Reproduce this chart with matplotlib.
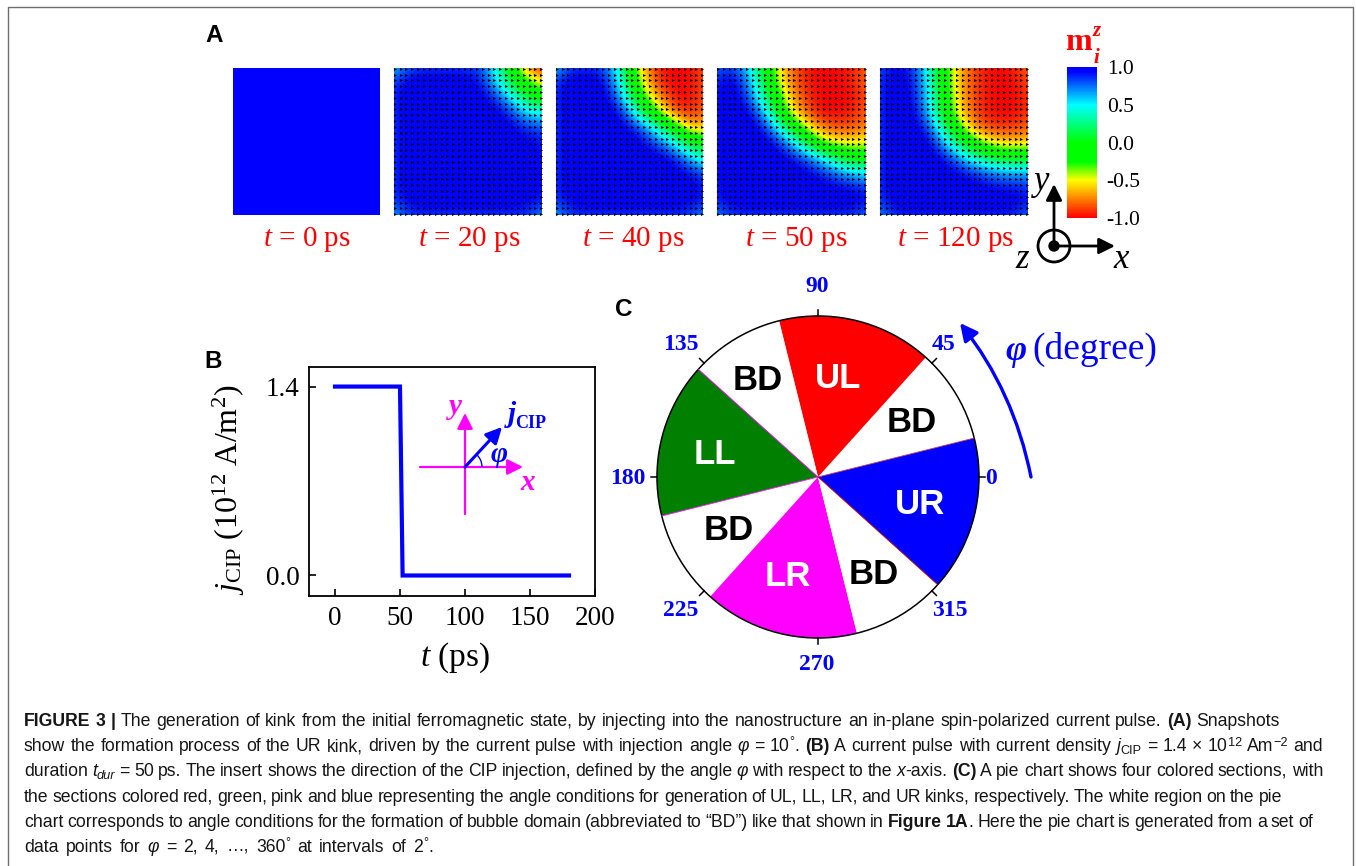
import re
import numpy as np
import matplotlib
matplotlib.use("Agg")
import matplotlib.pyplot as plt
from matplotlib.colors import LinearSegmentedColormap, Normalize
from matplotlib.cm import ScalarMappable
from matplotlib.patches import Circle, Arc, FancyArrowPatch

plt.rcParams.update({
    "font.family": ["Liberation Serif", "DejaVu Serif"],
    "mathtext.fontset": "custom",
    "mathtext.rm": "Liberation Serif",
    "mathtext.it": "Liberation Serif:italic",
    "mathtext.bf": "Liberation Serif:bold",
    "axes.unicode_minus": False,
})

W, H = 1356, 866

# ---------- DATA ----------
snapshot_labels = ["0", "20", "40", "50", "120"]
mz_0 = [[1.0]]
mz_20 = [
    [.60, .80, .85, .85, .85, .85, .80, .40, -.15, -.70, -.95],
    [.85, .98, 1, 1, 1, .98, .88, .55, .10, -.25, -.50],
    [.85, 1, 1, 1, 1, 1, .97, .82, .50, .12, -.10],
    [.85, 1, 1, 1, 1, 1, 1, .97, .82, .55, .45],
    [.85, 1, 1, 1, 1, 1, 1, 1, .95, .85, .80],
    [.85, 1, 1, 1, 1, 1, 1, 1, 1, .95, .90],
    [.85, 1, 1, 1, 1, 1, 1, 1, 1, 1, .92],
    [.85, 1, 1, 1, 1, 1, 1, 1, 1, 1, .92],
    [.85, 1, 1, 1, 1, 1, 1, 1, 1, 1, .92],
    [.85, .95, 1, 1, 1, 1, 1, 1, 1, .95, .90],
    [.65, .85, .85, .85, .85, .85, .85, .85, .85, .85, .70],
]
mz_40 = [
    [.60, .85, .85, .85, .60, -.10, -.65, -.95, -1, -1, -.85],
    [.85, 1, 1, .98, .70, .10, -.55, -.90, -1, -1, -.85],
    [.85, 1, 1, 1, .85, .30, -.30, -.70, -.95, -1, -.85],
    [.85, 1, 1, 1, .97, .70, .10, -.35, -.80, -.95, -.80],
    [.85, 1, 1, 1, 1, .92, .75, .30, -.10, -.60, -.65],
    [.85, 1, 1, 1, 1, 1, .92, .75, .50, .05, -.10],
    [.85, 1, 1, 1, 1, 1, 1, .97, .88, .65, .30],
    [.85, 1, 1, 1, 1, 1, 1, 1, .98, .90, .78],
    [.85, 1, 1, 1, 1, 1, 1, 1, 1, 1, .90],
    [.85, .95, 1, 1, 1, 1, 1, 1, 1, .95, .90],
    [.65, .85, .85, .85, .85, .85, .85, .85, .85, .85, .70],
]
mz_50 = [
    [.75, .85, .60, .10, -.45, -.80, -.95, -1, -1, -.95, -.80],
    [.90, 1, .75, .25, -.35, -.75, -.95, -1, -1, -.95, -.80],
    [.90, 1, .85, .40, -.15, -.65, -.90, -1, -1, -1, -.85],
    [.90, 1, .97, .70, .10, -.50, -.80, -1, -1, -.95, -.80],
    [.90, 1, 1, .92, .55, .0, -.50, -.75, -.85, -.85, -.75],
    [.90, 1, 1, 1, .88, .60, .10, -.40, -.55, -.55, -.50],
    [.90, 1, 1, 1, 1, .90, .75, .50, .15, -.10, -.15],
    [.90, 1, 1, 1, 1, 1, .95, .85, .70, .55, .45],
    [.90, 1, 1, 1, 1, 1, 1, .98, .95, .90, .85],
    [.90, .97, 1, 1, 1, 1, 1, 1, 1, 1, .92],
    [.70, .85, .85, .85, .85, .85, .85, .85, .85, .85, .75],
]
mz_120 = [
    [.80, .95, .90, .60, .0, -.50, -.80, -.95, -1, -.95, -.80],
    [.85, 1, .95, .65, .05, -.50, -.80, -.95, -1, -1, -.85],
    [.85, 1, .95, .70, .10, -.45, -.80, -.95, -1, -1, -.90],
    [.85, 1, 1, .75, .20, -.40, -.75, -.95, -1, -1, -.90],
    [.85, 1, 1, .90, .45, -.10, -.60, -.85, -.90, -.90, -.80],
    [.85, 1, 1, 1, .75, .30, -.10, -.45, -.60, -.65, -.60],
    [.85, 1, 1, 1, .95, .75, .45, .20, .0, -.05, -.05],
    [.85, 1, 1, 1, 1, .95, .85, .75, .65, .60, .60],
    [.85, 1, 1, 1, 1, 1, 1, .95, .90, .90, .85],
    [.85, .97, 1, 1, 1, 1, 1, 1, 1, .97, .92],
    [.70, .88, .88, .88, .88, .88, .88, .88, .88, .88, .75],
]
snapshots = [mz_0, mz_20, mz_40, mz_50, mz_120]
cbar_ticks = [1.0, 0.5, 0.0, -0.5, -1.0]
cbar_labels = ["1.0", "0.5", "0.0", "-0.5", "-1.0"]

pulse_t = [0, 50, 52, 180]
pulse_j = [1.4, 1.4, 0.0, 0.0]
pulse_xticks = [0, 50, 100, 150, 200]
pulse_yticks = [0.0, 1.4]

pie_names = ["UR", "BD", "UL", "BD", "LL", "BD", "LR", "BD"]
pie_spans = [56, 34, 56, 34, 56, 34, 56, 34]
pie_colors = ["#0000ff", "#ffffff", "#ff0000", "#ffffff", "#007f00", "#ffffff", "#ff00ff", "#ffffff"]
pie_start = -42
angle_ticks = [0, 45, 90, 135, 180, 225, 270, 315]
edge_angles = [14, 138, 194, -42]
edge_colors = ["#b03050", "#ff00ff", "#ff00ff", "#c00000"]

# ---------- LAYOUT ----------
fig = plt.figure(figsize=(W / 100, H / 100), dpi=100, facecolor="white")


def px_axes(x0, y0, x1, y1, **kw):
    return fig.add_axes([x0 / W, 1 - y1 / H, (x1 - x0) / W, (y1 - y0) / H], **kw)


cmap = LinearSegmentedColormap.from_list(
    "mz",
    [(0.0, "#ff0000"), (0.25, "#ffff00"), (0.37, "#00ff00"), (0.5, "#00ff00"),
     (0.75, "#00ffff"), (0.97, "#0000ff"), (1.0, "#0000ff")])
norm = Normalize(-1, 1)

# Panel A
panel_boxes = [(233, 380), (394, 542), (556, 703), (717, 866), (880, 1028)]
for k, ((x0, x1), grid) in enumerate(zip(panel_boxes, snapshots)):
    ax = px_axes(x0, 68, x1, 215)
    arr = np.array(grid, dtype=float)
    n = arr.shape[0]
    half = 0.5 / (n - 1) if n > 1 else 0.5
    ax.imshow(arr, cmap=cmap, norm=norm, origin="upper", aspect="auto",
              interpolation="bicubic" if n > 1 else "nearest",
              extent=(-half, 1 + half, 1 + half, -half))
    ax.set_xlim(0, 1)
    ax.set_ylim(1, 0)
    ax.axis("off")
    if k > 0:
        gx, gy = np.meshgrid(np.linspace(0.005, 0.995, 26), np.linspace(0.005, 0.995, 26))
        ax.scatter(gx.ravel(), gy.ravel(), marker=">", s=5, c="black", lw=0, clip_on=False, zorder=3)

# Colorbar
cax = px_axes(1067, 67, 1097, 218)
cb = fig.colorbar(ScalarMappable(norm=norm, cmap=cmap), cax=cax)
cb.set_ticks(cbar_ticks, labels=cbar_labels)
cb.outline.set_visible(False)
cax.tick_params(length=0, pad=7, labelsize=15.5)

# Panel B
axb = px_axes(309, 367, 595, 596)
axb.plot(pulse_t, pulse_j, color="#0000ff", lw=3.0, solid_joinstyle="miter", solid_capstyle="projecting")
axb.set_xlim(-20, 200)
axb.set_ylim(-0.152, 1.545)
axb.set_xticks(pulse_xticks)
axb.set_yticks(pulse_yticks)
axb.set_yticklabels(["0.0", "1.4"])
axb.tick_params(direction="in", length=5, width=1.2, labelsize=19.5, pad=7)
for s in axb.spines.values():
    s.set_linewidth(1.3)

# Panel C
axc = px_axes(657, 316, 979, 638)
axc.pie(pie_spans, colors=pie_colors, startangle=pie_start, counterclock=True,
        radius=1.0, wedgeprops={"linewidth": 0})
axc.set_xlim(-1, 1)
axc.set_ylim(-1, 1)
for a, c in zip(np.radians(edge_angles), edge_colors):
    axc.plot([0, np.cos(a)], [0, np.sin(a)], color=c, lw=0.6)
axc.add_patch(Circle((0, 0), 1.0, fill=False, ec="black", lw=1.1, clip_on=False))
for a in np.radians(angle_ticks):
    axc.plot([np.cos(a), 1.04 * np.cos(a)], [np.sin(a), 1.04 * np.sin(a)],
             color="black", lw=1.1, clip_on=False)

# Overlay in reference pixel coordinates
ov = fig.add_axes([0, 0, 1, 1], zorder=10)
ov.set_xlim(0, W)
ov.set_ylim(H, 0)
ov.axis("off")
ov.patch.set_alpha(0)
ov.plot([8, 8, 1353, 1353], [866, 6.5, 6.5, 866], color="#6e6e6e", lw=1.0)

SANS = "Liberation Sans"
for s, x, y in [("A", 214, 35), ("B", 213, 361), ("C", 624, 309)]:
    ov.text(x, y, s, family=SANS, weight="bold", size=17.5, ha="center", va="center")

for s, x in zip(snapshot_labels, [307, 469, 633, 796, 955]):
    ov.text(x, 239, rf"$t$ = {s} ps", color="red", size=21, ha="center", va="center")

# m_i^z
ov.text(1078, 42, "m", color="red", weight="bold", size=23, ha="center", va="center")
ov.text(1097, 31, "z", color="red", weight="bold", style="italic", size=15, ha="center", va="center")
ov.text(1096, 58, "i", color="red", weight="bold", style="italic", size=15, ha="center", va="center")

# Coordinate icon
ic = (1054, 246)
ov.add_patch(Circle(ic, 16, fill=False, ec="black", lw=2.0))
ov.add_patch(Circle(ic, 5, fc="black", ec="black"))
for tip in [(1054, 184), (1115, 246)]:
    ov.add_patch(FancyArrowPatch(ic, tip, arrowstyle="-|>", mutation_scale=24, lw=2.0,
                                 color="black", shrinkA=0, shrinkB=0))
ov.text(1042, 181, "y", style="italic", size=25, ha="center", va="center")
ov.text(1022, 259, "z", style="italic", size=25, ha="center", va="center")
ov.text(1121, 260, "x", style="italic", size=25, ha="center", va="center")

# Panel B labels and inset
ov.text(229, 490, r"$j_{\mathrm{CIP}}$ (10$^{12}$ A/m$^{2}$)", rotation=90, size=23,
        ha="center", va="center")
ov.text(455, 658, r"$t$ (ps)", size=24, ha="center", va="center")
M = "#ff00ff"
ov.add_patch(FancyArrowPatch((420, 467), (523, 467), arrowstyle="-|>", mutation_scale=24, lw=1.6,
                             color=M, shrinkA=0, shrinkB=0))
ov.add_patch(FancyArrowPatch((465, 514), (465, 413), arrowstyle="-|>", mutation_scale=24, lw=1.6,
                             color=M, shrinkA=0, shrinkB=0))
ov.add_patch(FancyArrowPatch((465, 467), (502, 427), arrowstyle="-|>", mutation_scale=24, lw=2.2,
                             color="#0000ff", shrinkA=0, shrinkB=0))
ov.add_patch(Arc((465, 467), 34, 34, theta1=-47, theta2=0, color="#0000ff", lw=1.0))
kw = dict(weight="bold", style="italic", ha="center", va="center")
ov.text(455, 406, "y", color=M, size=21, **kw)
ov.text(528, 482, "x", color=M, size=21, **kw)
ov.text(512, 414, "j", color="#0000ff", size=21, **kw)
ov.text(531, 423, "CIP", color="#0000ff", size=13, weight="bold", ha="center", va="center")
ov.text(499, 455, "φ", color="#0000ff", size=21, **kw)

# Panel C labels
for s, x, y, c in [("BD", 758, 380, "k"), ("UL", 838, 378, "w"), ("BD", 912, 423, "k"),
                   ("LL", 715, 455, "w"), ("UR", 920, 505, "w"), ("BD", 729, 530, "k"),
                   ("LR", 788, 576, "w"), ("BD", 874, 574, "k")]:
    ov.text(x, y, s, color=c, family=SANS, weight="bold", size=25, ha="center", va="center")
for a, x, y in [(0, 991, 478), (45, 944, 344), (90, 817, 287), (135, 681, 344),
                (180, 628, 478), (225, 681, 611), (270, 817, 664), (315, 950, 610)]:
    ov.text(x, y, str(a), color="#0000ff", weight="bold", size=17, ha="center", va="center")
ov.add_patch(FancyArrowPatch((1031, 477), (960, 323), connectionstyle="arc3,rad=0.12",
                             arrowstyle="-|>", mutation_scale=26, lw=2.4, color="#0000ff",
                             shrinkA=0, shrinkB=0))
ov.text(1016, 352, "φ", color="#0000ff", weight="bold", style="italic", size=26, ha="center", va="center")
ov.text(1095, 349, "(degree)", color="#0000ff", size=27, ha="center", va="center")

# Caption
R, B_, I = "r", "b", "i"
caption = [
    (721, 1280, [("FIGURE 3 | ", B_, 0),
                 ("The generation of kink from the initial ferromagnetic state, by injecting into the nanostructure an in-plane spin-polarized current pulse. ", R, 0),
                 ("(A)", B_, 0), (" Snapshots", R, 0)]),
    (746, 1323, [("show the formation process of the UR kink, driven by the current pulse with injection angle ", R, 0),
                 ("φ", I, 0), (" = 10", R, 0), ("°", R, 1), (". ", R, 0), ("(B)", B_, 0),
                 (" A current pulse with current density ", R, 0), ("j", I, 0), ("CIP", R, -1),
                 (" = 1.4 × 10", R, 0), ("12", R, 1), (" Am", R, 0), ("−2", R, 1), (" and", R, 0)]),
    (771, 1323, [("duration ", R, 0), ("t", I, 0), ("dur", I, -1),
                 (" = 50 ps. The insert shows the direction of the CIP injection, defined by the angle ", R, 0),
                 ("φ", I, 0), (" with respect to the ", R, 0), ("x", I, 0), ("-axis. ", R, 0),
                 ("(C)", B_, 0), (" A pie chart shows four colored sections, with", R, 0)]),
    (797, 1282, [("the sections colored red, green, pink and blue representing the angle conditions for generation of UL, LL, LR, and UR kinks, respectively. The white region on the pie", R, 0)]),
    (822, 1313, [("chart corresponds to angle conditions for the formation of bubble domain (abbreviated to “BD”) like that shown in ", R, 0),
                 ("Figure 1A", B_, 0), (". Here the pie chart is generated from a set of", R, 0)]),
    (847, 433, [("data points for ", R, 0), ("φ", I, 0), (" = 2, 4, …, 360", R, 0), ("°", R, 1),
                (" at intervals of 2", R, 0), ("°", R, 1), (".", R, 0)]),
]
renderer = fig.canvas.get_renderer()
CAP_SIZE = 12.7


def style_kw(st, lvl):
    return dict(family=SANS, weight="bold" if "b" in st else "normal",
                style="italic" if "i" in st else "normal",
                size=CAP_SIZE * (0.72 if lvl else 1.0), color="#161616")


def word_width(word, st, lvl):
    kw_ = style_kw(st, lvl)
    a = ov.text(0, 0, word + "|", **kw_)
    b = ov.text(0, 0, "|", **kw_)
    w = a.get_window_extent(renderer).width - b.get_window_extent(renderer).width
    a.remove()
    b.remove()
    return w


LEFT = 24
for y, right, segs in caption:
    tokens = []
    for t, s, l in segs:
        for part in re.split("( )", t):
            if part:
                tokens.append((part, s, l))
    n_gaps = sum(1 for p, _, _ in tokens if p == " ")
    used = sum(word_width(p, s, l) for p, s, l in tokens if p != " ")
    gap = (right - LEFT - used) / n_gaps
    x = LEFT
    for p, s, l in tokens:
        if p == " ":
            x += gap
            continue
        dy = -5.5 if l > 0 else (3 if l < 0 else 0)
        ov.text(x, y + 5 + dy, p, ha="left", va="baseline", **style_kw(s, l))
        x += word_width(p, s, l)

fig.savefig("out.png", dpi=100)
